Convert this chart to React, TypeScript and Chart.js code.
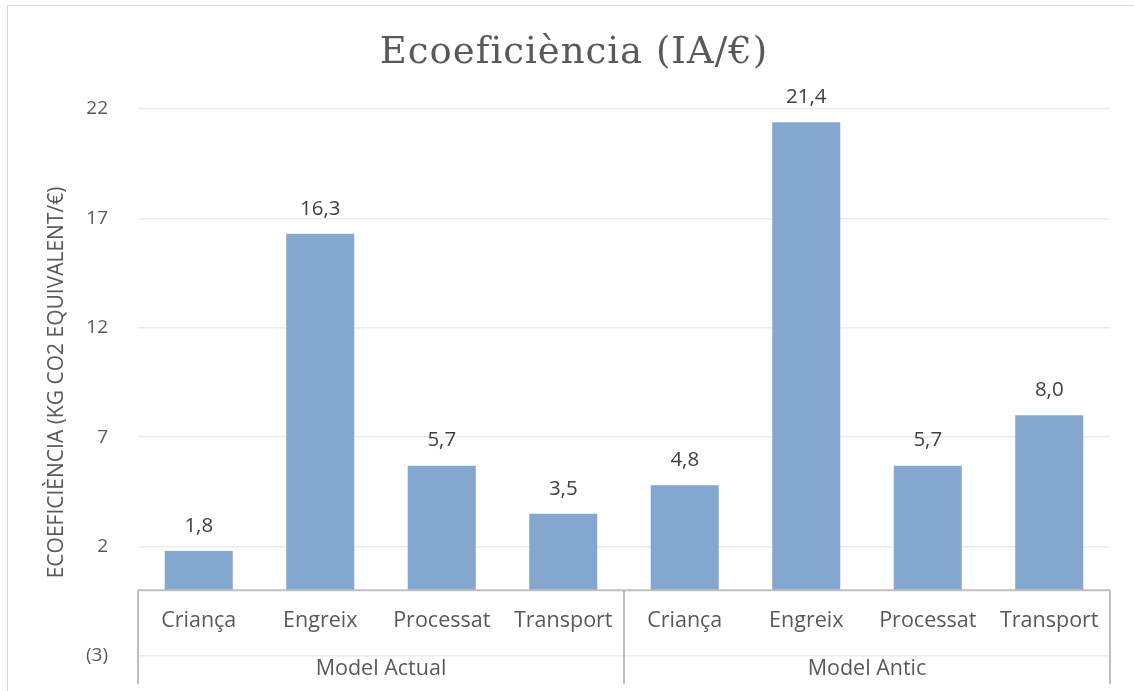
import React, { useEffect, useRef } from "react";
import { Chart, registerables } from "chart.js";

Chart.register(...registerables);

const categories = ["Criança", "Engreix", "Processat", "Transport", "Criança", "Engreix", "Processat", "Transport"];
const groups = ["Model Actual", "Model Antic"];
const groupSizes = [4, 4];
const values = [1.8, 16.3, 5.7, 3.5, 4.8, 21.4, 5.7, 8.0];
const yMin = -3;
const yMax = 22;
const yStep = 5;
const titleText = "Ecoeficiència (IA/€)";
const yTitleText = "ECOEFICIÈNCIA (KG CO2 EQUIVALENT/€)";

const TEXT = "#595959";
const SANS = "'Open Sans', 'Noto Sans', sans-serif";

const fmt = (v: number) => v.toFixed(1).replace(".", ",");

const decorPlugin = {
  id: "decor",
  beforeDraw(chart: any) {
    const ctx = chart.ctx;
    ctx.save();
    ctx.strokeStyle = "#d9d9d9";
    ctx.lineWidth = 1;
    ctx.strokeRect(7.5, 5.5, 1140, 700);
    ctx.restore();
  },
  afterDraw(chart: any) {
    const ctx = chart.ctx;
    const { left, right, top, bottom } = chart.chartArea;
    const x = chart.scales.x;
    const y = chart.scales.y;
    const y0 = y.getPixelForValue(0);
    ctx.save();
    // title
    ctx.fillStyle = TEXT;
    ctx.textAlign = "center";
    ctx.textBaseline = "middle";
    ctx.font = "37px 'DejaVu Serif', serif";
    (ctx as any).letterSpacing = "1px";
    ctx.fillText(titleText, 574, 53);
    (ctx as any).letterSpacing = "0px";
    // y title
    ctx.save();
    ctx.translate(57, (top + bottom) / 2);
    ctx.rotate(-Math.PI / 2);
    ctx.font = `21px ${SANS}`;
    ctx.fillText(yTitleText, 0, 0);
    ctx.restore();
    // axis line at 0
    ctx.strokeStyle = "#bfbfbf";
    ctx.lineWidth = 2;
    ctx.beginPath();
    ctx.moveTo(left, y0);
    ctx.lineTo(right, y0);
    ctx.stroke();
    // separators
    const seps: number[] = [left];
    let idx = 0;
    groupSizes.forEach((n) => {
      idx += n;
      seps.push(idx >= categories.length ? right : (x.getPixelForValue(idx - 1) + x.getPixelForValue(idx)) / 2);
    });
    seps.forEach((sx) => {
      ctx.beginPath();
      ctx.moveTo(sx, y0);
      ctx.lineTo(sx, y0 + 94);
      ctx.stroke();
    });
    // category labels
    ctx.fillStyle = TEXT;
    ctx.font = `21.5px ${SANS}`;
    categories.forEach((c, i) => {
      ctx.fillText(c, x.getPixelForValue(i), y0 + 31);
    });
    // group labels
    groups.forEach((g, gi) => {
      ctx.fillText(g, (seps[gi] + seps[gi + 1]) / 2, y0 + 79);
    });
    // data labels
    ctx.fillStyle = "#404040";
    ctx.font = `20.5px ${SANS}`;
    values.forEach((v, i) => {
      ctx.fillText(fmt(v), x.getPixelForValue(i), y.getPixelForValue(v) - 25);
    });
    ctx.restore();
  },
};

export default function App() {
  const ref = useRef<HTMLCanvasElement>(null);
  useEffect(() => {
    document.body.style.margin = "0";
    const chart = new Chart(ref.current!, {
      type: "bar",
      data: {
        labels: categories,
        datasets: [
          {
            data: values,
            backgroundColor: "#84a7d0",
            borderWidth: 0,
            categoryPercentage: 1,
            barPercentage: 0.56,
          },
        ],
      },
      options: {
        animation: false,
        responsive: false,
        devicePixelRatio: 1,
        layout: { padding: { left: 0, right: 24, top: 109, bottom: 35 } },
        plugins: { legend: { display: false }, tooltip: { enabled: false } },
        scales: {
          x: { display: false },
          y: {
            min: yMin,
            max: yMax,
            afterFit: (s: any) => {
              s.width = 138;
              s.paddingTop = 0;
              s.paddingBottom = 0;
            },
            ticks: {
              stepSize: yStep,
              padding: 30,
              color: TEXT,
              font: { family: SANS, size: 19 },
              callback: (v: any) => (v < 0 ? `(${Math.abs(v)})` : String(v)),
            },
            grid: { color: "#ececec", lineWidth: 1.5, drawTicks: false },
            border: { display: false },
          },
        },
      },
      plugins: [decorPlugin],
    });
    return () => chart.destroy();
  }, []);
  return <canvas ref={ref} width={1134} height={691} />;
}
